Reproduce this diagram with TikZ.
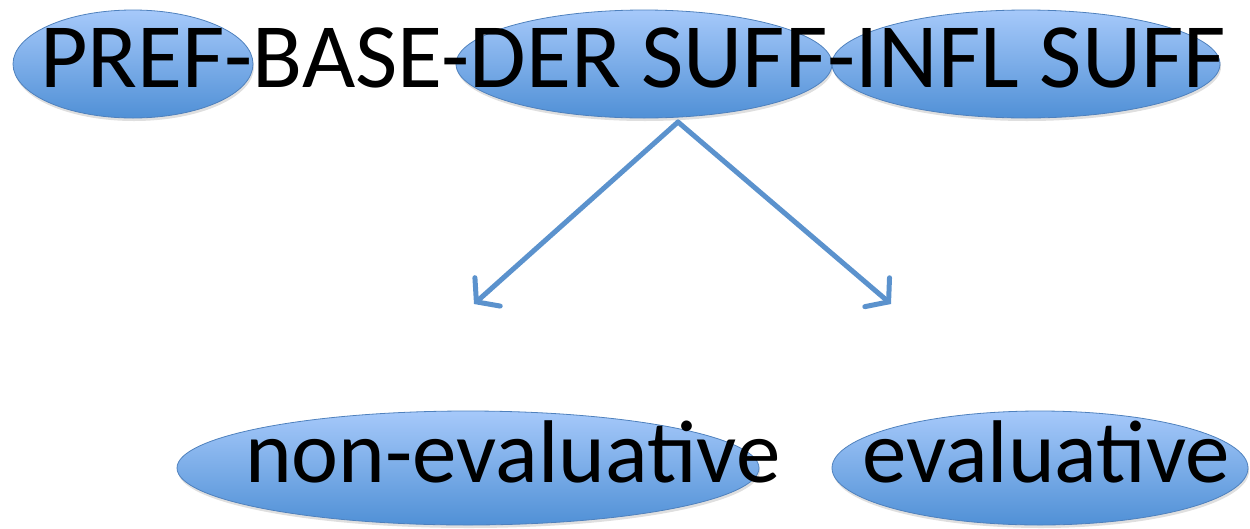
\documentclass[tikz,border=0pt]{standalone}
\usepackage{fontspec}
\setmainfont{Carlito}
\usetikzlibrary{shapes.geometric,arrows.meta,shadows}
\definecolor{edgeblue}{RGB}{79,129,189}
\definecolor{arrowblue}{RGB}{91,146,205}
\definecolor{topblue}{RGB}{166,201,250}
\definecolor{botblue}{RGB}{80,144,214}
\tikzset{
  blob/.style={ellipse, draw=edgeblue, line width=0.8pt, top color=topblue, bottom color=botblue, inner sep=0pt,
    drop shadow={opacity=0.25, shadow xshift=1pt, shadow yshift=-3pt}},
  bigtext/.style={font=\fontsize{92}{110}\selectfont, inner sep=0pt, text=black},
  smalltext/.style={font=\fontsize{89}{106}\selectfont, inner sep=0pt, text=black},
  link/.style={draw=arrowblue, line width=5pt, line cap=round, -{Straight Barb[length=15pt, width=38pt, line cap=round]}}
}
\begin{document}
\begin{tikzpicture}[x=1pt,y=-1pt]
\useasboundingbox (0,0) rectangle (1250,528);
\node[blob, minimum width=240pt, minimum height=108pt] (pref) at (133,64) {};
\node[blob, minimum width=376pt, minimum height=108pt] (der) at (644,64) {};
\node[blob, minimum width=388pt, minimum height=108pt] (infl) at (1026,64) {};
\node[blob, minimum width=582pt, minimum height=114pt] (nonev) at (468,468) {};
\node[blob, minimum width=416pt, minimum height=114pt] (ev) at (1040,468) {};
\node[bigtext, anchor=base west] (word) at (40,87) {PREF-BASE-DER SUFF-INFL SUFF};
\node[smalltext, anchor=base west] (nonevt) at (245,482) {non-evaluative};
\node[smalltext, anchor=base west] (evt) at (862,482) {evaluative};
\coordinate (split) at (678,122);
\coordinate (leftend) at (474,304);
\coordinate (rightend) at (891,304);
\draw[link] (split) -- (leftend);
\draw[link] (split) -- (rightend);
\end{tikzpicture}
\end{document}
